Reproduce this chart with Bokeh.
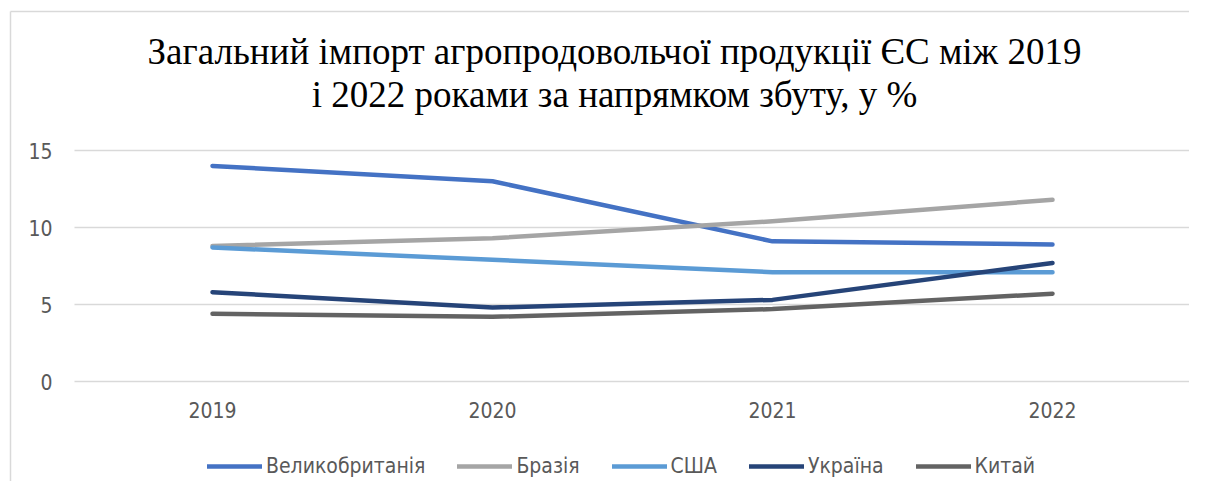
from bokeh.plotting import figure
from bokeh.models import ColumnDataSource, Legend, LegendItem, Label, FixedTicker, Range1d
from bokeh.embed import file_html
from bokeh.resources import INLINE

years = ["2019", "2020", "2021", "2022"]
uk = [14.0, 13.0, 9.1, 8.9]
brazil = [8.8, 9.3, 10.4, 11.8]
usa = [8.7, 7.9, 7.1, 7.1]
ukraine = [5.8, 4.8, 5.3, 7.7]
china = [4.4, 4.2, 4.7, 5.7]
y_ticks = [0, 5, 10, 15]

series_names = ["Великобританія", "Бразія", "США", "Україна", "Китай"]
series_vals = [uk, brazil, usa, ukraine, china]
colors = ["#4472C4", "#A5A5A5", "#5B9BD5", "#264478", "#636363"]

title_lines = ["Загальний імпорт агропродовольчої продукції ЄС між 2019",
               "і 2022 роками за напрямком збуту, у %"]

TICK_FONT = "'DejaVu Sans Condensed', 'Open Sans'"
TEXT_COLOR = "#595959"
GRID_COLOR = "#D9D9D9"

# canvas geometry (pixels)
W, H = 1189, 481
X0_PX, X_STEP_PX = 212, 280          # pixel column of first category, spacing
Y0_PX, Y15_PX = 381, 150             # pixel rows of y=0 and y=15
PLOT_LEFT_PX, PLOT_RIGHT_PX = 74, 1190
BORDER_LEFT_PX, BORDER_TOP_PX = 10, 11

ppu = (Y0_PX - Y15_PX) / 15.0
def dx(px):
    return (px - X0_PX) / X_STEP_PX
def dy(px):
    return (Y0_PX - px) / ppu

p = figure(width=W, height=H, output_backend="svg", toolbar_location=None,
           x_range=Range1d(dx(0), dx(W)), y_range=Range1d(dy(H), dy(0)),
           min_border_left=0, min_border_right=0, min_border_top=0, min_border_bottom=0)
p.outline_line_color = None
p.background_fill_color = "white"
p.border_fill_color = "white"

# chart border (left and top edges visible in the reference)
p.segment(x0=[dx(BORDER_LEFT_PX), dx(BORDER_LEFT_PX)], y0=[dy(BORDER_TOP_PX), dy(BORDER_TOP_PX)],
          x1=[dx(W), dx(BORDER_LEFT_PX)], y1=[dy(BORDER_TOP_PX), dy(H)],
          line_color=GRID_COLOR, line_width=1.5)

# horizontal grid lines at the y ticks
p.segment(x0=[dx(PLOT_LEFT_PX)] * len(y_ticks), y0=y_ticks,
          x1=[dx(PLOT_RIGHT_PX)] * len(y_ticks), y1=y_ticks,
          line_color=GRID_COLOR, line_width=1.5)
p.xgrid.visible = False
p.ygrid.visible = False

xs = list(range(len(years)))
renderers = []
for name, vals, col in zip(series_names, series_vals, colors):
    src = ColumnDataSource(dict(x=xs, y=vals))
    r = p.line("x", "y", source=src, line_color=col, line_width=4.5,
               line_cap="round", line_join="round")
    renderers.append(r)

p.xaxis.ticker = FixedTicker(ticks=xs)
p.xaxis.major_label_overrides = {i: y for i, y in enumerate(years)}
p.xaxis.fixed_location = 0
p.yaxis.ticker = FixedTicker(ticks=y_ticks)
p.yaxis.fixed_location = dx(PLOT_LEFT_PX)
for ax in (p.xaxis[0], p.yaxis[0]):
    ax.axis_line_color = None
    ax.major_tick_line_color = None
    ax.minor_tick_line_color = None
    ax.major_tick_out = 0
    ax.major_tick_in = 0
    ax.major_label_text_font = TICK_FONT
    ax.major_label_text_font_size = "21px"
    ax.major_label_text_color = TEXT_COLOR
p.yaxis.major_label_standoff = 22
p.xaxis.major_label_standoff = 20

for i, line in enumerate(title_lines):
    p.add_layout(Label(x=614, y=[430, 387][i], x_units="screen", y_units="screen",
                       text=line, text_align="center", text_baseline="alphabetic",
                       text_font="Liberation Serif", text_font_size="37px",
                       text_color="#000000"))

legend = Legend(items=[LegendItem(label=n, renderers=[r]) for n, r in zip(series_names, renderers)],
                orientation="horizontal", location=(207, 3),
                label_text_font=TICK_FONT, label_text_font_size="21px",
                label_text_color=TEXT_COLOR, glyph_width=55, glyph_height=24,
                label_height=24, label_standoff=4, spacing=32, padding=0, margin=0,
                border_line_color=None, background_fill_alpha=0)
p.add_layout(legend, "center")

open("out.html", "w").write(file_html(p, INLINE))
